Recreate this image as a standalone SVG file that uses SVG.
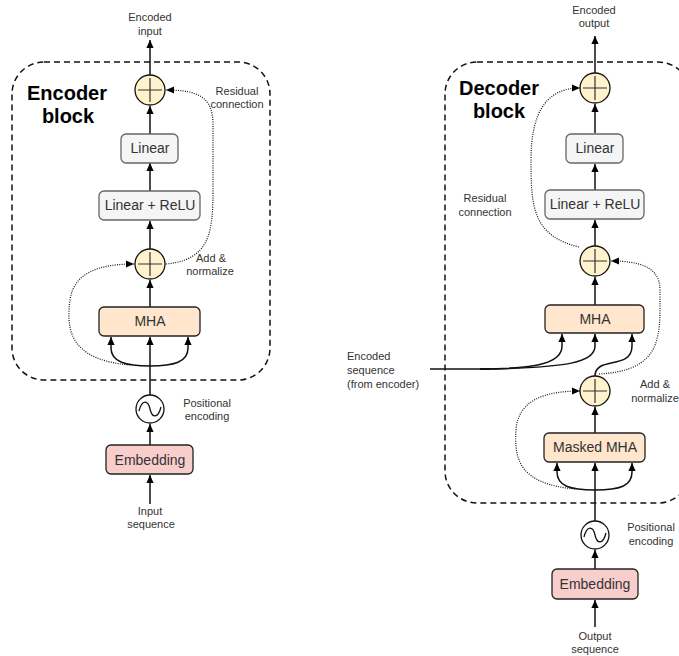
<svg xmlns="http://www.w3.org/2000/svg" width="679" height="656" viewBox="0 0 679 656">
<style>
text{font-family:"Liberation Sans",Arial,sans-serif;fill:#333;}
.lbl{font-size:11px;text-anchor:middle;}
.lbll{font-size:11px;}
.box{font-size:14px;text-anchor:middle;}
.title{font-size:20px;font-weight:bold;text-anchor:middle;fill:#000;}
.lin{fill:#f5f5f5;stroke:#666;stroke-width:1.3;}
.mha{fill:#ffe6cc;stroke:#222;stroke-width:1.3;}
.emb{fill:#f8cecc;stroke:#222;stroke-width:1.3;}
.add{fill:#fff2cc;stroke:#111;stroke-width:1.3;}
.cross{stroke:#333;stroke-width:1.2;fill:none;}
.pe{fill:#fff;stroke:#111;stroke-width:1.3;}
.wave{fill:none;stroke:#111;stroke-width:1.3;}
.dash{fill:none;stroke:#111;stroke-width:1.5;stroke-dasharray:6 4;}
.c{fill:none;stroke:#111;stroke-width:1.5;marker-end:url(#ah);}
.cn{fill:none;stroke:#111;stroke-width:1.5;}
.d{fill:none;stroke:#111;stroke-width:1.2;stroke-dasharray:1 1.3;marker-end:url(#ah);}
</style>
<defs>
<marker id="ah" markerUnits="userSpaceOnUse" markerWidth="8" markerHeight="10" refX="10" refY="4.5" viewBox="0 0 10 9" orient="auto">
<path d="M0,0 L10,4.5 L0,9 z" fill="#000"/>
</marker>
</defs>

<g id="encoder-frame">
<rect class="dash" x="12" y="62" width="258" height="318" rx="32"/>
<text class="title" x="67" y="100">Encoder</text>
<text class="title" x="68" y="123">block</text>
</g>
<g id="decoder-frame">
<rect class="dash" x="445" y="62" width="245" height="441" rx="32"/>
<text class="title" x="499" y="95">Decoder</text>
<text class="title" x="499" y="118">block</text>
</g>

<g id="connectors">
<!-- encoder -->
<path class="c" d="M150,504 L150,475"/>
<path class="c" d="M150,445 L150,424"/>
<path class="c" d="M150,395 L150,337"/>
<path class="c" d="M150,366 C126,366 111,362 111,348 L111,337"/>
<path class="c" d="M150,366 C174,366 188,362 188,348 L188,337"/>
<path class="c" d="M150,307 L150,280"/>
<path class="c" d="M150,249 L150,221"/>
<path class="c" d="M150,191 L150,163"/>
<path class="c" d="M150,134 L150,106"/>
<path class="c" d="M150,75 L150,40"/>
<path class="d" d="M130,365 C70,360 66,330 70,300 C74,272 100,264 134,264"/>
<path class="d" d="M166,264 C210,260 213,232 213,190 L213,125 C213,98 200,90 166,90"/>
<!-- decoder -->
<path class="c" d="M595,627 L595,600"/>
<path class="c" d="M595,569 L595,550"/>
<path class="c" d="M595,521 L595,463"/>
<path class="c" d="M595,490 C570,490 557,486 557,472 L557,463"/>
<path class="c" d="M595,490 C620,490 632,486 632,472 L632,463"/>
<path class="c" d="M595,433 L595,407"/>
<path class="c" d="M595,376 C595,356 632,370 632,346 L632,334"/>
<path class="cn" d="M430,369 L490,369"/>
<path class="c" d="M480,369 C540,369 562,362 562,346 L562,334"/>
<path class="c" d="M480,369 C570,368 595,362 595,346 L595,334"/>
<path class="c" d="M595,305 L595,277"/>
<path class="c" d="M595,246 L595,220"/>
<path class="c" d="M595,190 L595,164"/>
<path class="c" d="M595,133 L595,104"/>
<path class="c" d="M595,73 L595,36"/>
<path class="d" d="M575,489 C520,484 514,460 516,430 C518,400 545,391 580,391"/>
<path class="d" d="M599,374 C650,371 660,350 660,310 L660,290 C660,268 642,261 611,261"/>
<path class="d" d="M579,247 C532,236 531,205 531,160 C531,110 548,88 580,88"/>
</g>

<!-- encoder nodes -->
<g id="enc-input-label"><text class="lbl" x="150" y="515">Input</text><text class="lbl" x="151" y="528">sequence</text></g>
<g id="enc-embedding"><rect class="emb" x="106" y="445" width="87" height="29" rx="5"/><text class="box" x="150" y="465">Embedding</text></g>
<g id="enc-pe"><circle class="pe" cx="150" cy="409" r="14"/><path class="wave" d="M139,411 C142,399 148,400 150,409 C152,418 158,419 161,407"/></g>
<g id="enc-pe-label"><text class="lbl" x="207" y="407">Positional</text><text class="lbl" x="207" y="420">encoding</text></g>
<g id="enc-mha"><rect class="mha" x="99" y="307" width="101" height="29" rx="5"/><text class="box" x="150" y="326">MHA</text></g>
<g id="enc-add1"><circle class="add" cx="150" cy="264" r="15"/><path class="cross" d="M138,264 H162 M150,252 V276"/></g>
<g id="enc-add1-label"><text class="lbl" x="211" y="262">Add &amp;</text><text class="lbl" x="210" y="275">normalize</text></g>
<g id="enc-linrelu"><rect class="lin" x="99" y="191" width="101" height="29" rx="5"/><text class="box" x="150" y="210">Linear + ReLU</text></g>
<g id="enc-linear"><rect class="lin" x="121" y="134" width="57" height="29" rx="5"/><text class="box" x="150" y="153">Linear</text></g>
<g id="enc-add2"><circle class="add" cx="150" cy="90" r="15"/><path class="cross" d="M138,90 H162 M150,78 V102"/></g>
<g id="enc-res-label"><text class="lbl" x="237" y="95">Residual</text><text class="lbl" x="237" y="108">connection</text></g>
<g id="enc-output-label"><text class="lbl" x="150" y="21">Encoded</text><text class="lbl" x="150" y="35">input</text></g>

<!-- decoder nodes -->
<g id="dec-input-label"><text class="lbl" x="595" y="640">Output</text><text class="lbl" x="595" y="653">sequence</text></g>
<g id="dec-embedding"><rect class="emb" x="552" y="569" width="86" height="30" rx="5"/><text class="box" x="595" y="589">Embedding</text></g>
<g id="dec-pe"><circle class="pe" cx="595" cy="535" r="14"/><path class="wave" d="M584,537 C587,525 593,526 595,535 C597,544 603,545 606,533"/></g>
<g id="dec-pe-label"><text class="lbl" x="651" y="531">Positional</text><text class="lbl" x="651" y="545">encoding</text></g>
<g id="dec-masked-mha"><rect class="mha" x="544" y="433" width="101" height="29" rx="5"/><text class="box" x="595" y="452">Masked MHA</text></g>
<g id="dec-add1"><circle class="add" cx="595" cy="391" r="15"/><path class="cross" d="M583,391 H607 M595,379 V403"/></g>
<g id="dec-add1-label"><text class="lbl" x="655" y="388">Add &amp;</text><text class="lbl" x="655" y="402">normalize</text></g>
<g id="dec-enc-seq-label"><text class="lbll" x="347" y="360">Encoded</text><text class="lbll" x="347" y="374">sequence</text><text class="lbll" x="347" y="388">(from encoder)</text></g>
<g id="dec-mha"><rect class="mha" x="545" y="305" width="99" height="28" rx="5"/><text class="box" x="595" y="324">MHA</text></g>
<g id="dec-add2"><circle class="add" cx="595" cy="261" r="15"/><path class="cross" d="M583,261 H607 M595,249 V273"/></g>
<g id="dec-res-label"><text class="lbl" x="485" y="202">Residual</text><text class="lbl" x="485" y="216">connection</text></g>
<g id="dec-linrelu"><rect class="lin" x="545" y="190" width="99" height="29" rx="5"/><text class="box" x="595" y="209">Linear + ReLU</text></g>
<g id="dec-linear"><rect class="lin" x="566" y="134" width="57" height="29" rx="5"/><text class="box" x="595" y="153">Linear</text></g>
<g id="dec-add3"><circle class="add" cx="595" cy="88" r="15"/><path class="cross" d="M583,88 H607 M595,76 V100"/></g>
<g id="dec-output-label"><text class="lbl" x="594" y="14">Encoded</text><text class="lbl" x="594" y="27">output</text></g>
</svg>
